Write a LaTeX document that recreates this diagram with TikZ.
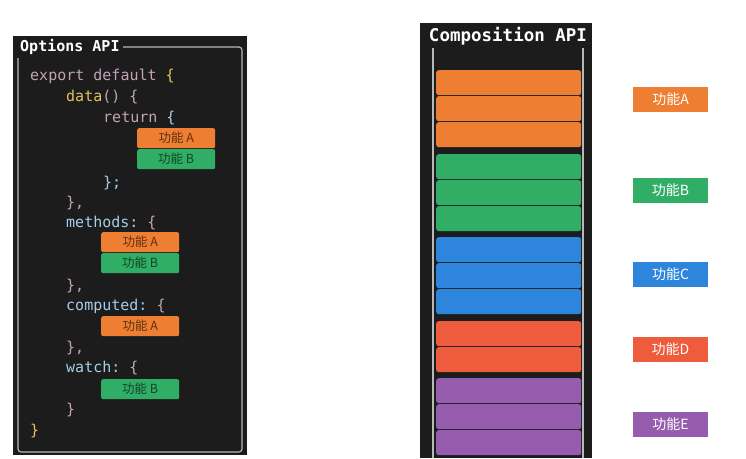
\documentclass[tikz,border=0pt]{standalone}
\usepackage{fontspec}
\setmonofont{DejaVu Sans Mono}
\newfontfamily\cjk{Noto Sans CJK SC}

\definecolor{panel}{HTML}{1C1C1C}
\definecolor{framegray}{HTML}{B8B8B8}
\definecolor{codepink}{HTML}{C4A3B7}
\definecolor{codeyellow}{HTML}{E2C35C}
\definecolor{codeblue}{HTML}{A3CDEA}
\definecolor{fa}{HTML}{EE7E31}
\definecolor{fb}{HTML}{30AE66}
\definecolor{fc}{HTML}{2E86DC}
\definecolor{fd}{HTML}{EF5B3D}
\definecolor{fe}{HTML}{965DAE}

\tikzset{
  code/.style={anchor=base west, inner sep=0pt, font=\ttfamily\fontsize{15}{15}\selectfont},
  paneltitle/.style={fill=panel, text=white, inner sep=3pt, font=\ttfamily\bfseries\fontsize{15}{15}\selectfont},
  featbox/.style={anchor=north west, fill=#1, text=#1!40!black, rounded corners=2pt,
    minimum width=78pt, minimum height=20pt, inner sep=0pt, font=\cjk\fontsize{12.5}{12.5}\selectfont},
  bar/.style={anchor=north west, fill=#1, draw=none, rounded corners=2.5pt,
    minimum width=145pt, minimum height=25pt, inner sep=0pt},
  tag/.style={fill=#1, text=white, minimum width=75pt, minimum height=25pt,
    inner sep=0pt, font=\cjk\fontsize{14}{14}\selectfont}
}

\begin{document}
\begin{tikzpicture}[x=1pt, y=-1pt]
  \useasboundingbox (0,0) rectangle (746,458);

  % Options API
  \fill[panel] (13,36) rectangle (247,455);
  \draw[framegray, line width=1.2pt, rounded corners=3pt] (18,47) rectangle (242,452);
  \node[paneltitle, anchor=west] (optTitle) at (17,47) {Options API};

  \node[code] (l1) at (30,80) {\color{codepink}export default \color{codeyellow}\{};
  \node[code] (l2) at (66,101) {\color{codeyellow}data\color{codepink}() \{};
  \node[code] (l3) at (103,122) {\color{codepink}return \color{codeblue}\{};
  \node[featbox=fa] (dataA) at (137,128) {功能 A};
  \node[featbox=fb] (dataB) at (137,149) {功能 B};
  \node[code] (l4) at (103,187) {\color{codeblue}\};};
  \node[code] (l5) at (66,207) {\color{codepink}\},};
  \node[code] (l6) at (66,227) {\color{codeblue}methods: \color{codepink}\{};
  \node[featbox=fa] (methA) at (101,232) {功能 A};
  \node[featbox=fb] (methB) at (101,253) {功能 B};
  \node[code] (l7) at (66,290) {\color{codepink}\},};
  \node[code] (l8) at (66,310) {\color{codeblue}computed: \color{codepink}\{};
  \node[featbox=fa] (compA) at (101,316) {功能 A};
  \node[code] (l9) at (66,352) {\color{codepink}\},};
  \node[code] (l10) at (66,372) {\color{codeblue}watch: \color{codepink}\{};
  \node[featbox=fb] (watchB) at (101,379) {功能 B};
  \node[code] (l11) at (66,414) {\color{codepink}\}};
  \node[code] (l12) at (30,435) {\color{codeyellow}\}};

  % Composition API
  \fill[panel] (420,23) rectangle (592,458);
  \draw[framegray, line width=1.2pt] (433,46) -- (433,458) (583,46) -- (583,458);
  \node[paneltitle, font=\ttfamily\bfseries\fontsize{17.5}{17.5}\selectfont] (compTitle) at (508,36) {Composition API};

  \foreach \y/\c [count=\i] in {70/fa, 96/fa, 122/fa, 154/fb, 180/fb, 206/fb,
      237/fc, 263/fc, 289/fc, 321/fd, 347/fd, 378/fe, 404/fe, 430/fe}
    \node[bar=\c] (bar\i) at (436,\y) {};

  \node[tag=fa] (tagA) at (670.5,99.5) {功能A};
  \node[tag=fb] (tagB) at (670.5,190.5) {功能B};
  \node[tag=fc] (tagC) at (670.5,274.5) {功能C};
  \node[tag=fd] (tagD) at (670.5,349.5) {功能D};
  \node[tag=fe] (tagE) at (670.5,424.5) {功能E};
\end{tikzpicture}
\end{document}
